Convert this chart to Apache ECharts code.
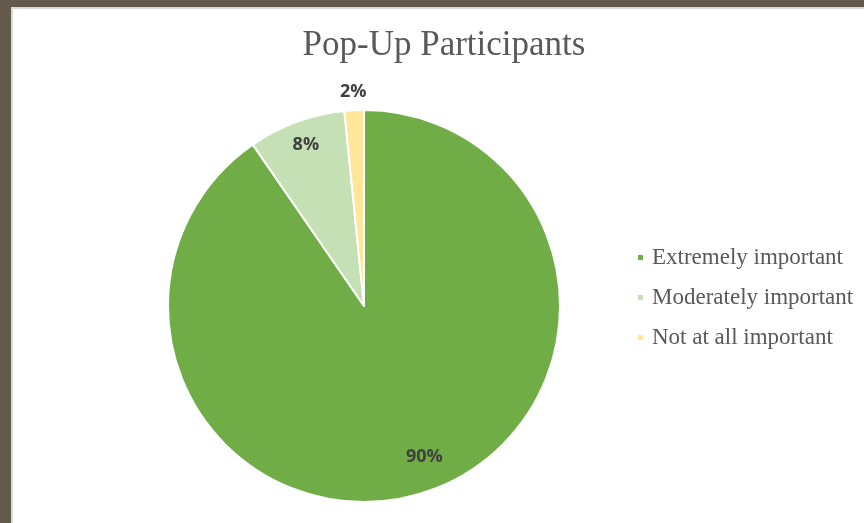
<!DOCTYPE html>
<html>
<head>
<meta charset="utf-8">
<script src="https://cdn.jsdelivr.net/npm/echarts@6/dist/echarts.min.js"></script>
<style>
html,body{margin:0;padding:0;background:#fff;}
#c{width:864px;height:523px;}
</style>
</head>
<body>
<div id="c"></div>
<script>
const titleText = 'Pop-Up Participants';
const categories = ['Extremely important', 'Moderately important', 'Not at all important'];
const values = [113, 10, 2];
const colors = ['#70ad47', '#c5e0b4', '#ffe699'];

const chart = echarts.init(document.getElementById('c'));
const CX = 364, CY = 306, R = 196;
const radialFactor = [0.829, 0.873, 1.094];
const angleShiftDeg = [-4.5, 0.3, 0];
const total = values.reduce((a, b) => a + b, 0);
const midAngles = values.map((v, i) => {
  const before = values.slice(0, i).reduce((a, b) => a + b, 0);
  return (before + v / 2) / total * 2 * Math.PI + angleShiftDeg[i] * Math.PI / 180;
});

chart.setOption({
  backgroundColor: '#ffffff',
  animation: false,
  graphic: [
    { type: 'rect', shape: { x: 0, y: 0, width: 864, height: 9 }, style: { fill: '#d9d9d9' }, silent: true },
    { type: 'rect', shape: { x: 0, y: 0, width: 13, height: 523 }, style: { fill: '#d9d9d9' }, silent: true },
    { type: 'rect', shape: { x: 0, y: 0, width: 864, height: 7 }, style: { fill: '#635a4b' }, silent: true },
    { type: 'rect', shape: { x: 0, y: 0, width: 11, height: 523 }, style: { fill: '#635a4b' }, silent: true }
  ],
  title: {
    text: titleText,
    left: 439,
    top: 23,
    textAlign: 'center',
    textStyle: {
      fontFamily: '"Liberation Serif", serif',
      fontSize: 35,
      fontWeight: 'normal',
      color: '#595959'
    }
  },
  legend: {
    orient: 'vertical',
    left: 631,
    top: 241,
    itemWidth: 7,
    itemHeight: 7,
    itemGap: 17,
    icon: 'rect',
    data: categories,
    textStyle: {
      fontFamily: '"Liberation Serif", serif',
      fontSize: 23,
      lineHeight: 23,
      color: '#595959',
      padding: [0, 0, 0, 3]
    }
  },
  series: [{
    type: 'pie',
    center: [CX, CY],
    radius: R,
    startAngle: 90,
    clockwise: true,
    avoidLabelOverlap: false,
    itemStyle: { borderColor: '#ffffff', borderWidth: 2 },
    label: {
      show: true,
      position: 'inside',
      formatter: p => Math.round(p.percent) + '%',
      fontFamily: '"Open Sans", sans-serif',
      fontWeight: 'bold',
      fontSize: 18,
      color: '#404040'
    },
    labelLine: { show: false },
    labelLayout: function (p) {
      const i = p.dataIndex;
      const a = midAngles[i];
      const k = radialFactor[i] * R;
      return {
        x: CX + k * Math.sin(a),
        y: CY - k * Math.cos(a),
        align: 'center',
        verticalAlign: 'middle'
      };
    },
    emphasis: { disabled: true },
    data: categories.map((c, i) => ({ name: c, value: values[i], itemStyle: { color: colors[i] } }))
  }]
});
</script>
</body>
</html>
